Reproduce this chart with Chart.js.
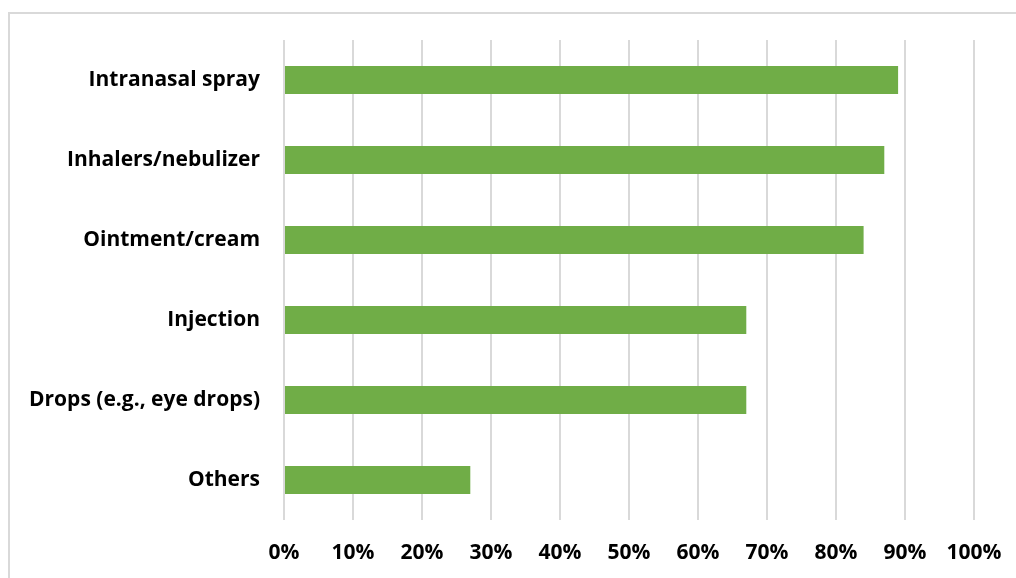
<!DOCTYPE html>
<html lang="en">
<head>
    <meta charset="UTF-8">
    <script src="https://cdn.jsdelivr.net/npm/chart.js"></script>
    <title>Administration routes</title>
    <style>
        html, body { margin: 0; padding: 0; background: #fff; }
        #wrap {
            position: absolute;
            left: 0; top: 0;
            width: 1016px; height: 578px;
        }
        #frame {
            position: absolute;
            left: 8px; top: 12px;
            width: 1010px; height: 570px;
            border-top: 2px solid #d9d9d9;
            border-left: 2px solid #d9d9d9;
            box-sizing: border-box;
        }
    </style>
</head>
<body>
<div id="frame"></div>
<div id="wrap"><canvas id="routesChart" width="1016" height="578"></canvas></div>

<script>
    // categories top to bottom, share of respondents (%)
    const routes = ['Intranasal spray', 'Inhalers/nebulizer', 'Ointment/cream', 'Injection', 'Drops (e.g., eye drops)', 'Others'];
    const shares = [89, 87, 84, 67, 67, 27];

    const font = { family: 'Open Sans', size: 21, weight: 'bold' };

    new Chart(document.getElementById('routesChart'), {
        type: 'bar',
        data: {
            labels: routes,
            datasets: [{
                data: shares,
                backgroundColor: '#70ad47',
                borderWidth: 0,
                barPercentage: 0.35,
                categoryPercentage: 1
            }]
        },
        options: {
            indexAxis: 'y',
            responsive: false,
            animation: false,
            layout: { padding: { left: 0, right: 42, top: 40, bottom: 0 } },
            plugins: { legend: { display: false }, tooltip: { enabled: false } },
            scales: {
                x: {
                    min: 0,
                    max: 100,
                    ticks: {
                        stepSize: 10,
                        color: '#000',
                        font: font,
                        padding: 20,
                        callback: v => v + '%'
                    },
                    grid: { color: '#d9d9d9', lineWidth: 2, drawTicks: false },
                    border: { display: false },
                    afterFit: axis => {
                        axis.height = 58;
                        axis.paddingLeft = 0;
                        axis.paddingRight = 0;
                    }
                },
                y: {
                    ticks: { color: '#000', font: font, padding: 24 },
                    grid: { display: false, drawTicks: false },
                    border: { display: false },
                    afterFit: axis => { axis.width = 284; }
                }
            }
        }
    });
</script>
</body>
</html>
